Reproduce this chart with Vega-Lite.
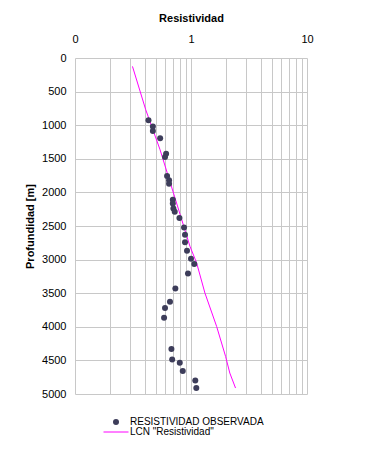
{
  "$schema": "https://vega.github.io/schema/vega-lite/v6.json",
  "width": 232,
  "height": 336,
  "autosize": {"type": "none"},
  "padding": {"left": 75, "top": 58, "right": 58, "bottom": 58},
  "background": "white",
  "config": {
    "font": "Liberation Sans",
    "view": {"stroke": null}
  },
  "datasets": {
    "obs": [
      {"r": 0.43, "prof": 928, "serie": "RESISTIVIDAD OBSERVADA"},
      {"r": 0.469, "prof": 1018, "serie": "RESISTIVIDAD OBSERVADA"},
      {"r": 0.469, "prof": 1086, "serie": "RESISTIVIDAD OBSERVADA"},
      {"r": 0.542, "prof": 1196, "serie": "RESISTIVIDAD OBSERVADA"},
      {"r": 0.61, "prof": 1424, "serie": "RESISTIVIDAD OBSERVADA"},
      {"r": 0.597, "prof": 1473, "serie": "RESISTIVIDAD OBSERVADA"},
      {"r": 0.622, "prof": 1756, "serie": "RESISTIVIDAD OBSERVADA"},
      {"r": 0.647, "prof": 1821, "serie": "RESISTIVIDAD OBSERVADA"},
      {"r": 0.647, "prof": 1871, "serie": "RESISTIVIDAD OBSERVADA"},
      {"r": 0.697, "prof": 2109, "serie": "RESISTIVIDAD OBSERVADA"},
      {"r": 0.697, "prof": 2164, "serie": "RESISTIVIDAD OBSERVADA"},
      {"r": 0.705, "prof": 2238, "serie": "RESISTIVIDAD OBSERVADA"},
      {"r": 0.724, "prof": 2287, "serie": "RESISTIVIDAD OBSERVADA"},
      {"r": 0.795, "prof": 2381, "serie": "RESISTIVIDAD OBSERVADA"},
      {"r": 0.871, "prof": 2521, "serie": "RESISTIVIDAD OBSERVADA"},
      {"r": 0.888, "prof": 2630, "serie": "RESISTIVIDAD OBSERVADA"},
      {"r": 0.888, "prof": 2741, "serie": "RESISTIVIDAD OBSERVADA"},
      {"r": 0.924, "prof": 2868, "serie": "RESISTIVIDAD OBSERVADA"},
      {"r": 1.0, "prof": 2987, "serie": "RESISTIVIDAD OBSERVADA"},
      {"r": 1.067, "prof": 3066, "serie": "RESISTIVIDAD OBSERVADA"},
      {"r": 0.942, "prof": 3205, "serie": "RESISTIVIDAD OBSERVADA"},
      {"r": 0.733, "prof": 3429, "serie": "RESISTIVIDAD OBSERVADA"},
      {"r": 0.659, "prof": 3627, "serie": "RESISTIVIDAD OBSERVADA"},
      {"r": 0.597, "prof": 3720, "serie": "RESISTIVIDAD OBSERVADA"},
      {"r": 0.586, "prof": 3865, "serie": "RESISTIVIDAD OBSERVADA"},
      {"r": 0.678, "prof": 4331, "serie": "RESISTIVIDAD OBSERVADA"},
      {"r": 0.688, "prof": 4485, "serie": "RESISTIVIDAD OBSERVADA"},
      {"r": 0.8, "prof": 4534, "serie": "RESISTIVIDAD OBSERVADA"},
      {"r": 0.849, "prof": 4658, "serie": "RESISTIVIDAD OBSERVADA"},
      {"r": 1.089, "prof": 4798, "serie": "RESISTIVIDAD OBSERVADA"},
      {"r": 1.111, "prof": 4911, "serie": "RESISTIVIDAD OBSERVADA"}
    ],
    "lcn": [
      {"r": 0.313, "prof": 125, "serie": "LCN \"Resistividad\""},
      {"r": 0.407, "prof": 769, "serie": "LCN \"Resistividad\""},
      {"r": 0.541, "prof": 1365, "serie": "LCN \"Resistividad\""},
      {"r": 0.98, "prof": 2803, "serie": "LCN \"Resistividad\""},
      {"r": 1.119, "prof": 3051, "serie": "LCN \"Resistividad\""},
      {"r": 1.318, "prof": 3497, "serie": "LCN \"Resistividad\""},
      {"r": 1.663, "prof": 3994, "serie": "LCN \"Resistividad\""},
      {"r": 1.986, "prof": 4440, "serie": "LCN \"Resistividad\""},
      {"r": 2.16, "prof": 4688, "serie": "LCN \"Resistividad\""},
      {"r": 2.42, "prof": 4911, "serie": "LCN \"Resistividad\""}
    ]
  },
  "encoding": {
    "x": {
      "field": "r",
      "type": "quantitative",
      "scale": {"type": "log", "domain": [0.1, 10], "nice": false},
      "axis": {
        "orient": "top",
        "title": "Resistividad",
        "titleFontSize": 11,
        "titleFontWeight": "bold",
        "titleColor": "#000",
        "titlePadding": 10,
        "values": [0.1, 0.2, 0.3, 0.4, 0.5, 0.6, 0.7, 0.8, 0.9, 1, 2, 3, 4, 5, 6, 7, 8, 9, 10],
        "labelExpr": "datum.value == 0.1 ? '0' : (datum.value == 1 ? '1' : (datum.value == 10 ? '10' : ''))",
        "labelFontSize": 11,
        "labelColor": "#000000",
        "labelPadding": 14,
        "labelFlush": false,
        "labelOverlap": false,
        "ticks": false,
        "domain": false,
        "grid": true,
        "gridColor": "#c8c8c8",
        "gridWidth": 1,
        "gridOpacity": 1
      }
    },
    "y": {
      "field": "prof",
      "type": "quantitative",
      "scale": {"domain": [0, 5000], "reverse": true, "nice": false},
      "axis": {
        "title": "Profundidad [m]",
        "titleFontSize": 11,
        "titleFontWeight": "bold",
        "titleColor": "#000",
        "titlePadding": 6,
        "values": [0, 500, 1000, 1500, 2000, 2500, 3000, 3500, 4000, 4500, 5000],
        "format": "d",
        "labelFontSize": 11,
        "labelColor": "#000",
        "labelPadding": 9,
        "labelFlush": false,
        "ticks": false,
        "domain": false,
        "grid": true,
        "gridColor": "#c8c8c8",
        "gridWidth": 1,
        "gridOpacity": 1
      }
    },
    "color": {
      "field": "serie",
      "type": "nominal",
      "scale": {
        "domain": ["RESISTIVIDAD OBSERVADA", "LCN \"Resistividad\""],
        "range": ["#3d3d5a", "#ff00ff"]
      },
      "legend": {
        "orient": "none",
        "legendX": 36,
        "legendY": 359,
        "direction": "vertical",
        "title": null,
        "labelFontSize": 10,
        "labelColor": "#000000",
        "labelOffset": 9,
        "symbolSize": 625,
        "rowPadding": 0,
        "encode": {
          "labels": {
            "update": {
              "fill": {"value": "#000000"}
            }
          },
          "symbols": {
            "update": {
              "shape": {"signal": "datum.index == 1 ? 'stroke' : 'circle'"},
              "size": {"signal": "datum.index == 1 ? 625 : 36"},
              "fill": {"signal": "datum.index == 1 ? 'transparent' : '#3d3d5a'"},
              "stroke": {"signal": "datum.index == 1 ? '#ff00ff' : '#3d3d5a'"},
              "strokeWidth": {"signal": "datum.index == 1 ? 1 : 0"},
              "opacity": {"value": 1}
            }
          }
        }
      }
    }
  },
  "layer": [
    {
      "data": {"name": "lcn"},
      "mark": {"type": "line", "strokeWidth": 1, "clip": true}
    },
    {
      "data": {"name": "obs"},
      "mark": {"type": "point", "filled": true, "size": 36, "opacity": 1}
    }
  ]
}
